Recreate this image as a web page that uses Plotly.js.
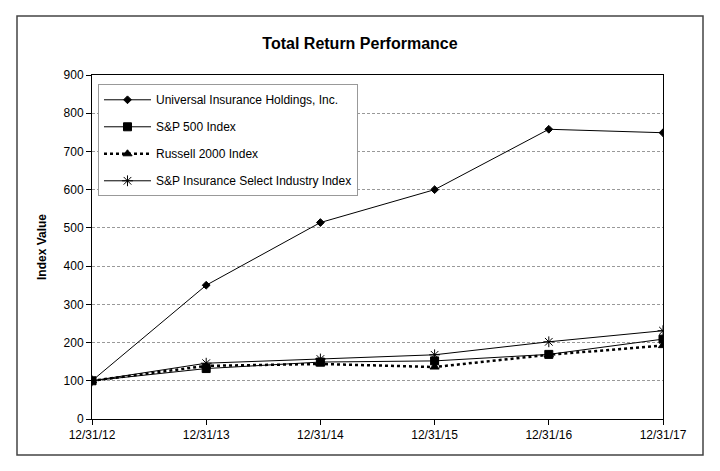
<!DOCTYPE html>
<html><head><meta charset="utf-8">
<script src="https://cdn.plot.ly/plotly-3.0.1.min.js"></script>
<style>html,body{margin:0;padding:0;background:#fff}#c{width:720px;height:471px}</style>
</head><body><div id="c"></div>
<script>
const dates = ["12/31/12","12/31/13","12/31/14","12/31/15","12/31/16","12/31/17"];
const universal = [100, 350, 514, 600, 758, 749];
const sp500 = [100, 132, 149, 152, 169, 209];
const russell = [100, 139, 144, 136, 168, 192];
const insurance = [100, 146, 157, 168, 202, 231];
const names = ["Universal Insurance Holdings, Inc.","S&P 500 Index","Russell 2000 Index","S&P Insurance Select Industry Index"];

const font = "Liberation Sans, Arial, sans-serif";
function tr(y, name, sym, size, dash, g){
  return {x: dates, y: y, name: name, type: 'scatter', mode: 'lines+markers', legendgroup: g,
    line: {color: '#000', width: dash === 'dot' ? 2.5 : 1, dash: dash},
    marker: {symbol: sym, size: size, color: '#000', line: {color: '#000', width: 1}}};
}
const data = [
  tr(universal, names[0], 'diamond', 6, 'solid', 'a'),
  tr(sp500, names[1], 'square', 8, 'solid', 'b'),
  tr(russell, names[2], 'triangle-up', 8, 'dot', 'c'),
  tr(insurance, names[3], 'asterisk-open', 9, 'solid', 'd')
];
const layout = {
  width: 720, height: 471,
  margin: {l: 92, r: 57, t: 75, b: 52},
  paper_bgcolor: '#fff', plot_bgcolor: '#fff',
  font: {family: font, size: 12, color: '#000'},
  title: {text: '<b>Total Return Performance</b>', font: {family: font, size: 16, color: '#000'}, x: 0.5, xanchor: 'center', y: 0.908, yanchor: 'middle'},
  xaxis: {type: 'category', range: [0, 5], showgrid: false, ticks: 'outside', ticklen: 5, tickcolor: '#000',
    showline: true, linecolor: '#000', linewidth: 1, mirror: true, tickfont: {size: 12}, zeroline: false},
  yaxis: {range: [0, 900], dtick: 100, showgrid: true, gridcolor: '#999', griddash: '3px,2px', gridwidth: 1,
    ticks: 'outside', ticklen: 5, tickcolor: '#000', showline: true, linecolor: '#000', linewidth: 1, mirror: true,
    zeroline: false, title: {text: '<b>Index Value</b>', font: {size: 12}, standoff: 14}},
  legend: {x: 0.0105, y: 0.973, xanchor: 'left', yanchor: 'top', bgcolor: '#fff', bordercolor: '#999', borderwidth: 1,
    traceorder: 'grouped', tracegroupgap: 8, font: {size: 12}, itemwidth: 47},
  shapes: [{type: 'rect', xref: 'paper', yref: 'paper', x0: -75/571, x1: 1 + 40/571, y0: -36/344, y1: 1 + 59/344,
    line: {color: '#444', width: 1.5}, fillcolor: 'rgba(0,0,0,0)', layer: 'below'}],
  showlegend: true
};
Plotly.newPlot('c', data, layout, {staticPlot: true});
</script></body></html>
